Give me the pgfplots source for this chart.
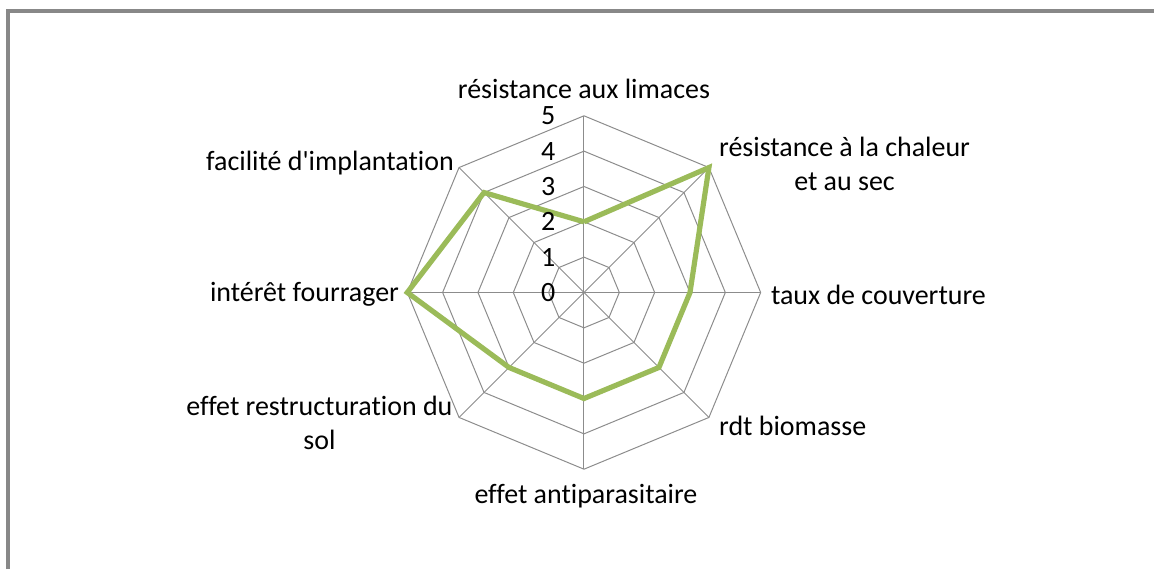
\documentclass[border=0pt]{standalone}
\usepackage{fontspec}
\setmainfont{Carlito}[Ligatures={NoCommon}]
\usepackage{pgfplots}
\usepackage{pgfplotstable}
\pgfplotsset{compat=1.18}
\definecolor{olive}{HTML}{9BBB59}
\definecolor{gridgray}{HTML}{8C8C8C}
\definecolor{framegray}{HTML}{888888}
% angle (deg) and score for each criterion
\pgfplotstableread{
a v
90 2
45 5
0 3
-45 3
-90 3
-135 3
180 5
135 4
90 2
}\scores
\begin{document}
\fontsize{14}{17}\selectfont
\begin{tikzpicture}
\begin{axis}[
  scale only axis, width=578pt, height=285pt,
  xmin=-16.525, xmax=16.13, ymin=-7.825, ymax=8.277,
  hide axis, clip=false,
]
\path (rel axis cs:0,0) rectangle (rel axis cs:1,1);
% frame
\draw[framegray, line width=2pt] (axis cs:-16.3,-7.825) -- (axis cs:-16.3,7.952) -- (axis cs:16.13,7.952);
% grid rings
\pgfplotsinvokeforeach{1,...,5}{
  \addplot[gridgray, line width=0.5pt, no marks] table[x expr={#1*cos(\thisrow{a})}, y expr={#1*sin(\thisrow{a})}] {\scores};
}
% spokes
\pgfplotsinvokeforeach{90,45,0,-45,-90,-135,180,135}{
  \addplot[gridgray, line width=0.5pt, no marks] coordinates {(0,0) (5*cos #1,5*sin #1)};
}
% data
\addplot[olive, line width=2.6pt, no marks, line join=miter] table[x expr={\thisrow{v}*cos(\thisrow{a})}, y expr={\thisrow{v}*sin(\thisrow{a})}] {\scores};
% tick labels
\pgfplotsinvokeforeach{0,...,5}{
  \node[anchor=east, inner sep=0pt] at (axis cs:-0.8,#1) {#1};
}
% category labels
\node[anchor=center] at (axis cs:0,5.763) {résistance aux limaces};
\node[anchor=center, align=center] at (axis cs:7.373,3.644) {résistance à la chaleur\\et au sec};
\node[anchor=west, inner sep=0pt] at (axis cs:5.282,-0.056) {taux de couverture};
\node[anchor=west, inner sep=0pt] at (axis cs:3.814,-3.785) {rdt biomasse};
\node[anchor=center] at (axis cs:0.056,-5.763) {effet antiparasitaire};
\node[anchor=center, align=center] at (axis cs:-7.486,-3.701) {effet restructuration du\\sol};
\node[anchor=east, inner sep=0pt] at (axis cs:-5.226,-0.056) {intérêt fourrager};
\node[anchor=east, inner sep=0pt] at (axis cs:-3.672,3.672) {facilité d\textquotesingle implantation};
\end{axis}
\end{tikzpicture}
\end{document}
